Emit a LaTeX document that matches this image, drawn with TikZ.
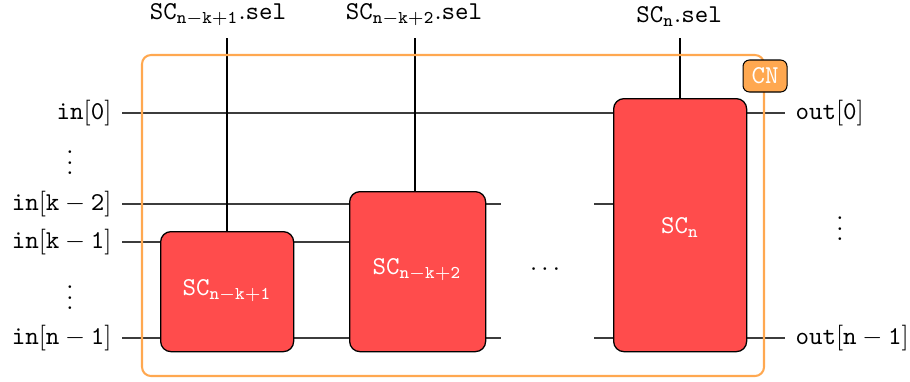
\documentclass[tikz,border=0pt]{standalone}
\usetikzlibrary{backgrounds}
\definecolor{scred}{RGB}{255,76,76}
\definecolor{cnorange}{RGB}{255,168,80}
\definecolor{wiregray}{RGB}{60,60,60}
\begin{document}
\begin{tikzpicture}[x=0.389pt,y=-0.389pt,
  scbox/.style={draw=black,line width=0.5pt,fill=scred,rounded corners=4pt,
    text=white,inner sep=0pt,anchor=north west},
  wire/.style={draw=wiregray,line width=0.45pt},
  selwire/.style={draw=black,line width=0.8pt},
  inlabel/.style={anchor=east,inner xsep=3.9pt,inner ysep=0pt},
  outlabel/.style={anchor=west,inner xsep=3.9pt,inner ysep=0pt},
  sellabel/.style={inner sep=0pt},
  dotsmark/.style={inner sep=0pt},
  frame/.style={draw=cnorange,line width=0.8pt,rounded corners=3.5pt},
  cntag/.style={draw=black,line width=0.4pt,fill=cnorange,rounded corners=2.5pt,
    text=white,minimum width=44*0.389pt,minimum height=32*0.389pt,inner sep=0pt,font=\ttfamily}]
\useasboundingbox (0,0) rectangle (910,381);

% sorting cells
\node[scbox,minimum width=133*0.389pt,minimum height=120*0.389pt] (SC1) at (160,231) {};
\node[scbox,minimum width=136*0.389pt,minimum height=160*0.389pt] (SC2) at (349,191) {};
\node[scbox,minimum width=133*0.389pt,minimum height=253*0.389pt] (SCn) at (613,98) {};
\node[text=white] (SC1t) at (227,291) {$\mathtt{SC_{n-k+1}}$};
\node[text=white] (SC2t) at (417,270) {$\mathtt{SC_{n-k+2}}$};
\node[text=white] (SCnt) at (680,228) {$\mathtt{SC_{n}}$};

% input labels
\node[inlabel] (in0) at (122,113) {$\mathtt{in[0]}$};
\node[dotsmark] (vd1) at (70,155) {$\vdots$};
\node[inlabel] (ink2) at (122,204) {$\mathtt{in[k-2]}$};
\node[inlabel] (ink1) at (122,242) {$\mathtt{in[k-1]}$};
\node[dotsmark] (vd2) at (70,290) {$\vdots$};
\node[inlabel] (inn1) at (122,338) {$\mathtt{in[n-1]}$};

% output labels
\node[outlabel] (out0) at (785,113) {$\mathtt{out[0]}$};
\node[dotsmark] (vd3) at (840,221) {$\vdots$};
\node[outlabel] (outn1) at (785,338) {$\mathtt{out[n-1]}$};

% middle ellipsis
\node[dotsmark] (hd) at (545,270) {$\cdots$};

% select labels
\node[sellabel] (sel1) at (218,15) {$\mathtt{SC_{n-k+1}.sel}$};
\node[sellabel] (sel2) at (414,15) {$\mathtt{SC_{n-k+2}.sel}$};
\node[sellabel] (seln) at (679,17) {$\mathtt{SC_{n}.sel}$};
\coordinate (s1) at (227,38);
\coordinate (s2) at (415,38);
\coordinate (sn) at (680,38);

% wire breaks around the ellipsis
\coordinate (gk2a) at (501,204);
\coordinate (gk2b) at (594,204);
\coordinate (gn1a) at (501,338);
\coordinate (gn1b) at (594,338);

\begin{scope}[on background layer]
  \draw[wire] (in0.east) -- (out0.west);
  \draw[wire] (ink2.east) -- (gk2a);
  \draw[wire] (gk2b) -- (gk2b -| SCn.west);
  \draw[wire] (ink1.east) -- (ink1.east -| SC2.west);
  \draw[wire] (inn1.east) -- (gn1a);
  \draw[wire] (gn1b) -- (gn1b -| SCn.west);
  \draw[wire] (outn1.west -| SCn.east) -- (outn1.west);
\end{scope}

% select lines
\draw[selwire] (s1) -- (s1 |- SC1.north);
\draw[selwire] (s2) -- (s2 |- SC2.north);
\draw[selwire] (sn) -- (sn |- SCn.north);

% network frame and tag
\draw[frame] (142,55) rectangle (764,376);
\node[cntag] (CN) at (765,76) {CN};
\end{tikzpicture}
\end{document}
